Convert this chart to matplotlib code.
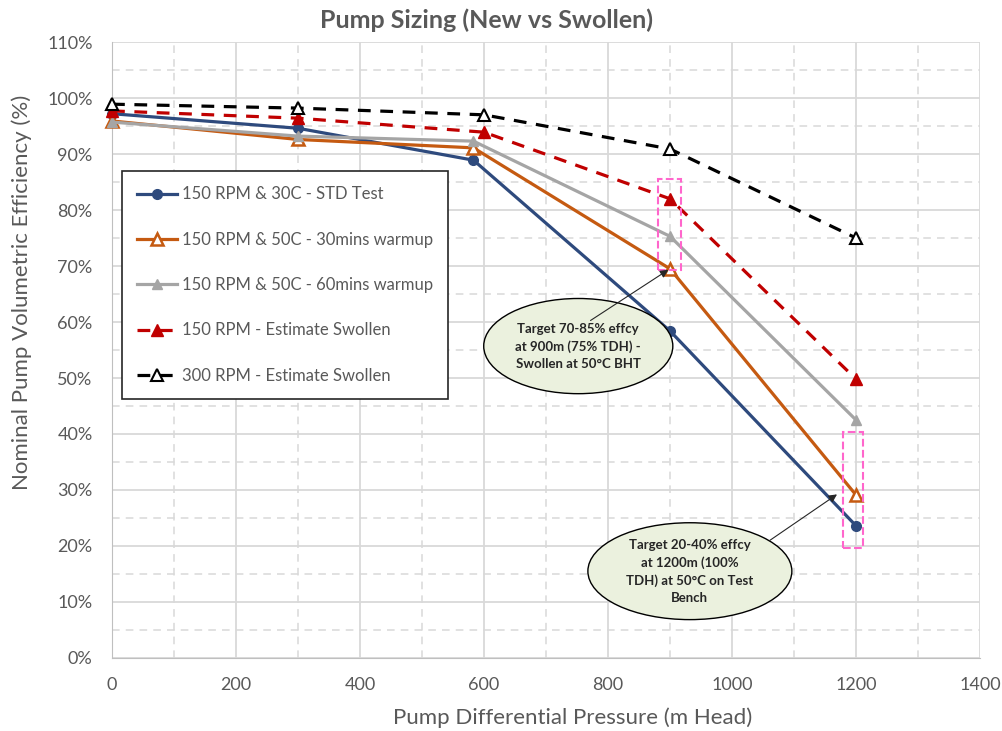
import matplotlib.pyplot as plt
from matplotlib.patches import Ellipse, Rectangle
from matplotlib.ticker import MultipleLocator, FuncFormatter

plt.rcParams["font.family"] = ["Lato", "DejaVu Sans"]

# pump head (m) and volumetric efficiency (%) for each run
head_tested = [0, 300, 583, 900, 1200]
head_est = [0, 300, 600, 900, 1200]
std_30c = [97.2, 94.6, 88.9, 58.4, 23.6]
warm_30min = [95.9, 92.6, 91.1, 69.5, 29.1]
warm_60min = [95.7, 93.2, 92.3, 75.3, 42.5]
est_150rpm = [97.7, 96.4, 93.9, 82.0, 49.8]
est_300rpm = [98.9, 98.2, 97.0, 90.9, 75.0]

labels = [
    "150 RPM & 30C - STD Test",
    "150 RPM & 50C - 30mins warmup",
    "150 RPM & 50C - 60mins warmup",
    "150 RPM - Estimate Swollen",
    "300 RPM - Estimate Swollen",
]

grey = "#595959"
fig = plt.figure(figsize=(10.03, 7.31), dpi=100)
ax = fig.add_axes([0.1117, 0.0999, 0.8654, 0.8426])

ax.plot(head_tested, std_30c, color="#2E4A7D", lw=2.3, marker="o", ms=7, label=labels[0],
        zorder=5, clip_on=False)
ax.plot(head_tested, warm_30min, color="#C55A11", lw=2.3, marker="^", ms=8, mfc="white",
        mew=1.8, label=labels[1], zorder=5, clip_on=False)
ax.plot(head_tested, warm_60min, color="#A5A5A5", lw=2.3, marker="^", ms=7, label=labels[2],
        zorder=5, clip_on=False)
ax.plot(head_est, est_150rpm, color="#C00000", lw=2.3, ls=(0, (4, 3)), marker="^", ms=8,
        label=labels[3], zorder=5, clip_on=False)
ax.plot(head_est, est_300rpm, color="black", lw=2.3, ls=(0, (4, 3)), marker="^", ms=8, mfc="white",
        mew=1.5, label=labels[4], zorder=5, clip_on=False)

ax.set_xlim(0, 1400)
ax.set_ylim(0, 110)
ax.xaxis.set_major_locator(MultipleLocator(200))
ax.xaxis.set_minor_locator(MultipleLocator(100))
ax.yaxis.set_major_locator(MultipleLocator(10))
ax.yaxis.set_minor_locator(MultipleLocator(5))
ax.yaxis.set_major_formatter(FuncFormatter(lambda v, _: f"{v:.0f}%"))
ax.grid(which="major", color="#D9D9D9", lw=1.3)
ax.grid(which="minor", color="#D9D9D9", lw=1.1, ls=(0, (5, 4)))
ax.set_axisbelow(True)
ax.tick_params(which="both", length=0, labelsize=13, labelcolor=grey)
ax.tick_params(axis="x", pad=14)
ax.tick_params(axis="y", pad=14)
for s in ["top", "right"]:
    ax.spines[s].set_visible(False)
for s in ["left", "bottom"]:
    ax.spines[s].set_color("#BFBFBF")

# target zones
ax.add_patch(Rectangle((880, 69.3), 37, 16.2, fill=False, ec="#FF66CC", lw=1.5, ls="--", zorder=6))
ax.add_patch(Rectangle((1179, 19.6), 32, 20.8, fill=False, ec="#FF66CC", lw=1.5, ls="--", zorder=6))

ax.add_patch(Ellipse((752, 55.7), 305, 17, fc="#EBF1DE", ec="black", lw=1, zorder=7))
ax.add_patch(Ellipse((932, 15.5), 329, 17.3, fc="#EBF1DE", ec="black", lw=1, zorder=7))
ax.text(752, 55.7, "Target 70-85% effcy\nat 900m (75% TDH) -\nSwollen at 50°C BHT",
        ha="center", va="center", fontsize=9.5, fontweight="bold", color="#262626",
        linespacing=1.5, zorder=8)
ax.text(932, 15.5, "Target 20-40% effcy\nat 1200m (100%\nTDH) at 50°C on Test\nBench",
        ha="center", va="center", fontsize=9.5, fontweight="bold", color="#262626",
        linespacing=1.5, zorder=8)
ax.annotate("", xy=(901, 69.6), xytext=(768, 60.0),
            arrowprops=dict(arrowstyle="-|>", color="#262626", lw=0.8, mutation_scale=12), zorder=7)
ax.annotate("", xy=(1173, 29.5), xytext=(1057, 20.7),
            arrowprops=dict(arrowstyle="-|>", color="#262626", lw=0.8, mutation_scale=12), zorder=7)

leg = ax.legend(loc="upper left", bbox_to_anchor=(0.0115, 0.79), borderaxespad=0, fontsize=12,
                labelspacing=1.76, handlelength=2.4, handletextpad=0.3, borderpad=0.9,
                fancybox=False, framealpha=1, edgecolor="#262626")
leg.get_frame().set_linewidth(1.2)
for t in leg.get_texts():
    t.set_color(grey)
leg.set_zorder(9)

fig.text(487 / 1003, 1 - 20 / 731, "Pump Sizing (New vs Swollen)", ha="center", va="center",
         fontsize=18, fontweight="bold", color=grey)
fig.text(573 / 1003, 1 - 718 / 731, "Pump Differential Pressure (m Head)", ha="center",
         va="center", fontsize=16, color=grey)
fig.text(22 / 1003, 1 - 292 / 731, "Nominal Pump Volumetric Efficiency (%)", ha="center",
         va="center", rotation=90, fontsize=16, color=grey)

fig.savefig("out.png", dpi=100)
